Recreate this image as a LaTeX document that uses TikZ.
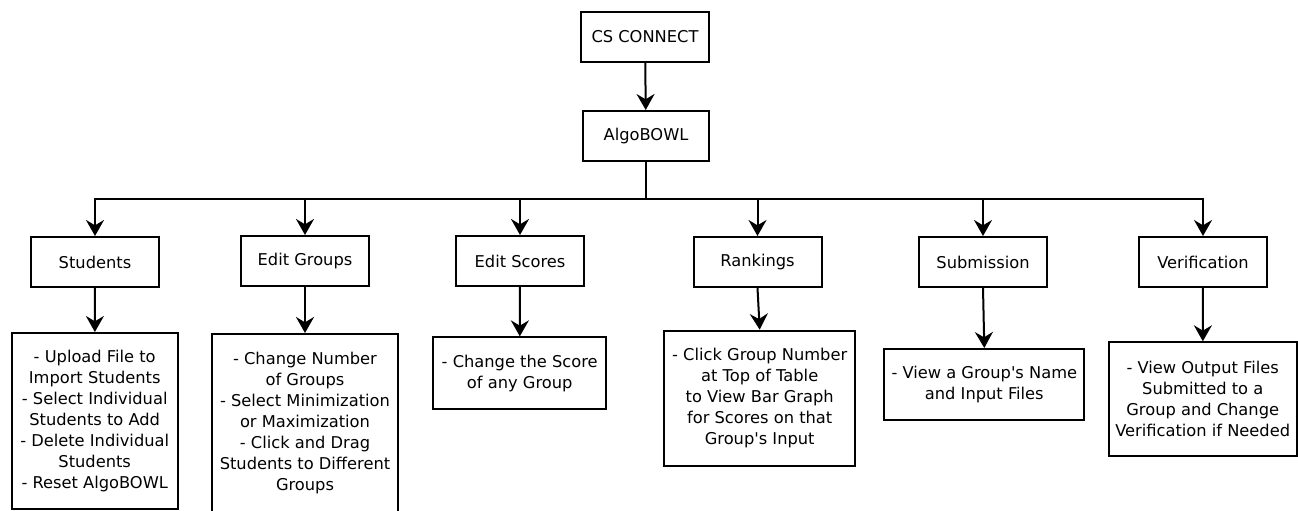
\documentclass[tikz,border=0pt]{standalone}
\usepackage{fontspec}
\newfontfamily\dvsans{DejaVu Sans}
\usetikzlibrary{arrows.meta}
\tikzset{
  box/.style={draw=black, line width=1.5pt, fill=white, inner sep=0pt, align=center,
    font=\dvsans\fontsize{12.2pt}{15.75pt}\selectfont},
  topbox/.style={box, minimum width=128*0.75pt, minimum height=50*0.75pt},
  arr/.style={line width=1.5pt, -{Stealth[length=12pt, width=13.5pt, inset=4pt]}},
  link/.style={line width=1.5pt}
}
\begin{document}
\begin{tikzpicture}[x=0.75pt,y=-0.75pt]
\useasboundingbox (0,0) rectangle (1298,510);
\fill[white] (0,0) rectangle (1298,510);
% top
\node[topbox] (cs) at (645,37) {CS CONNECT};
\node[topbox, minimum width=126*0.75pt] (algo) at (646,136) {AlgoBOWL};
\coordinate (bus) at (646,199);
% level 2
\node[topbox] (stud) at (95,262) {Students};
\node[topbox] (egrp) at (305,261) {Edit Groups};
\node[topbox] (escr) at (520,261) {Edit Scores};
\node[topbox] (rank) at (757.5,262) {Rankings};
\node[topbox] (subm) at (983,262) {Submission};
\node[topbox] (veri) at (1203,262) {Verification};
% details
\node[box, minimum width=166*0.75pt, minimum height=176*0.75pt] (studd) at (94.7,421)
  {- Upload File to\\Import Students\\- Select Individual\\Students to Add\\- Delete Individual\\Students\\- Reset AlgoBOWL};
\node[box, minimum width=185.4*0.75pt, minimum height=178*0.75pt] (egrpd) at (305,423)
  {- Change Number\\of Groups\\- Select Minimization\\or Maximization\\- Click and Drag\\Students to Different\\Groups};
\node[box, minimum width=172.7*0.75pt, minimum height=71.7*0.75pt] (escrd) at (519.7,373.2)
  {- Change the Score\\of any Group};
\node[box, minimum width=190.7*0.75pt, minimum height=135*0.75pt] (rankd) at (759.7,398.2)
  {- Click Group Number\\at Top of Table\\to View Bar Graph\\for Scores on that\\Group's Input};
\node[box, minimum width=200*0.75pt, minimum height=71*0.75pt] (submd) at (984.3,384.5)
  {- View a Group's Name\\and Input Files};
\node[box, minimum width=188*0.75pt, minimum height=113.4*0.75pt] (verid) at (1202.7,399)
  {- View Output Files\\Submitted to a\\Group and Change\\Verification if Needed};
% connectors
\draw[arr] (cs) -- (algo);
\draw[link] (algo.south) -- (bus);
\foreach \n in {stud,egrp,escr,rank,subm,veri}{
  \draw[arr] (bus) -| (\n.north);
}
\draw[arr] (stud) -- (studd);
\draw[arr] (egrp) -- (egrpd);
\draw[arr] (escr) -- (escrd);
\draw[arr] (rank.south) -- (rankd.north);
\draw[arr] (subm.south) -- (submd.north);
\draw[arr] (veri) -- (verid);
\end{tikzpicture}
\end{document}
